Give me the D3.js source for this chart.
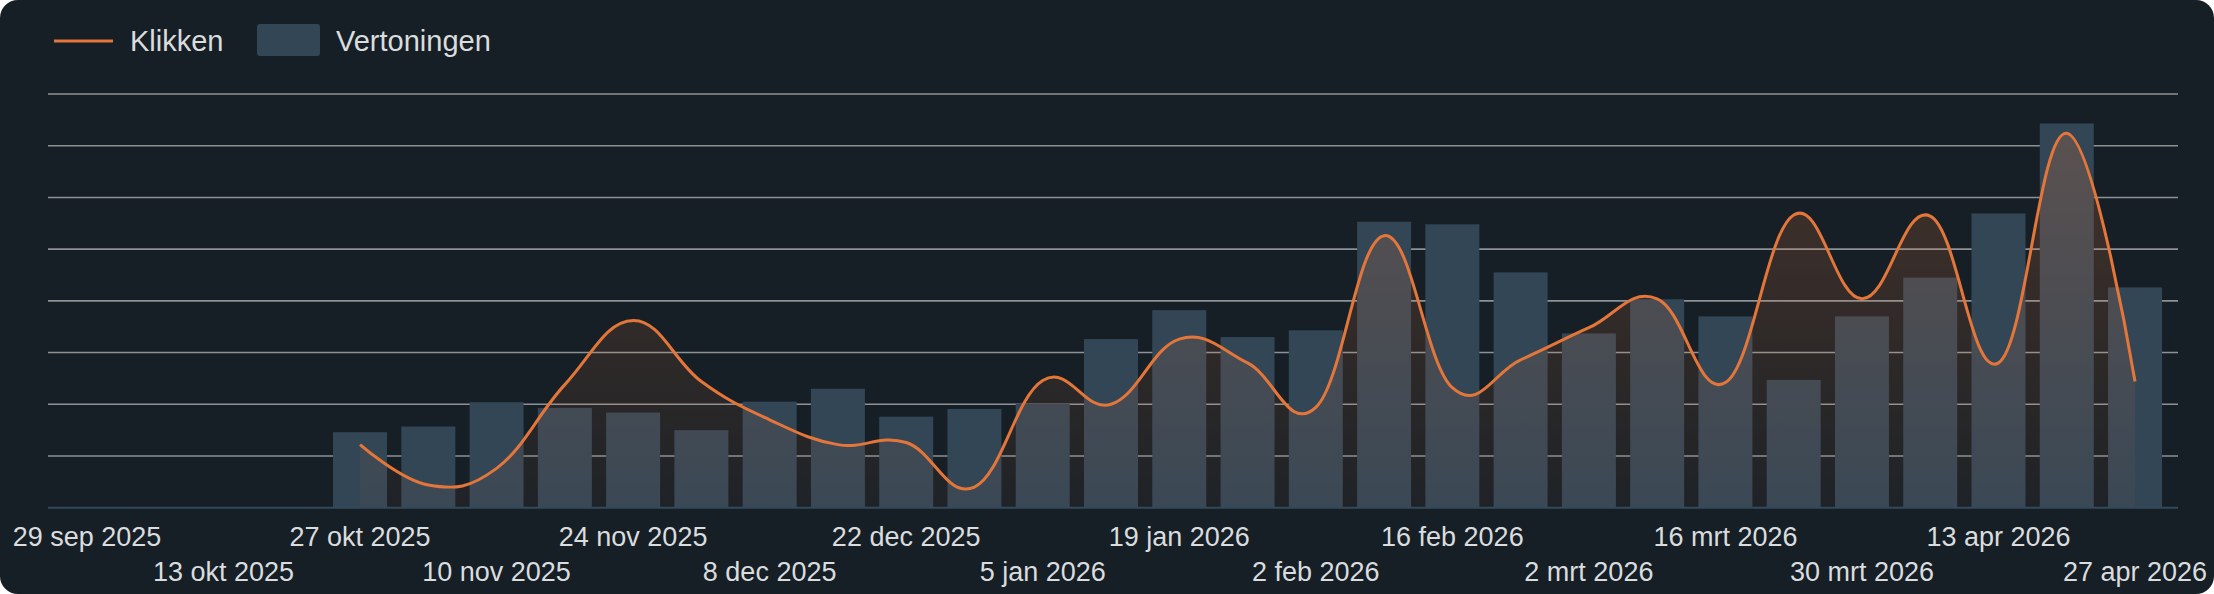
<!DOCTYPE html>
<html lang="nl">
<head>
<meta charset="utf-8">
<title>Klikken en vertoningen per week</title>
<script src="https://cdnjs.cloudflare.com/ajax/libs/d3/7.8.5/d3.min.js"></script>
<style>
  html, body { margin: 0; padding: 0; background: #ffffff; }
  svg { display: block; }
  text { font-family: "Liberation Sans", Arial, Helvetica, sans-serif; fill: #dadcde; }
</style>
</head>
<body>
<script>
// weeks (monday) shown on the x axis
var weeks = ["29 sep 2025","6 okt 2025","13 okt 2025","20 okt 2025","27 okt 2025","3 nov 2025","10 nov 2025","17 nov 2025",
  "24 nov 2025","1 dec 2025","8 dec 2025","15 dec 2025","22 dec 2025","29 dec 2025","5 jan 2026","12 jan 2026",
  "19 jan 2026","26 jan 2026","2 feb 2026","9 feb 2026","16 feb 2026","23 feb 2026","2 mrt 2026","9 mrt 2026",
  "16 mrt 2026","23 mrt 2026","30 mrt 2026","6 apr 2026","13 apr 2026","20 apr 2026","27 apr 2026"];

// Vertoningen (bars)
var vertoningen = [0, 0, 0, 0, 146, 157, 204, 193, 184, 150, 205, 230, 176, 191, 201, 326,
  382, 330, 343, 553, 548, 455, 337, 403, 370, 247, 370, 445, 569, 743, 426];

// Klikken (line), null = no data yet
var klikken = [null, null, null, null, 6.1, 2.2, 3.8, 11.9, 18.1, 12.2, 8.5, 6.1, 6.3, 2.0, 12.3, 10.0,
  16.3, 14.0, 9.7, 26.3, 11.6, 14.3, 17.4, 20.2, 12.1, 28.3, 20.2, 28.2, 14.0, 36.2, 12.2];

var seriesNames = ["Klikken", "Vertoningen"];

var w = 2214, h = 594;
var gridLeft = 48, gridRight = 2178, plotTop = 94, plotBottom = 507.7;

var svg = d3.select("body").append("svg")
  .attr("width", w)
  .attr("height", h);

// card
svg.append("rect")
  .attr("width", w).attr("height", h)
  .attr("rx", 18).attr("ry", 18)
  .attr("fill", "#161f26");

var defs = svg.append("defs");
var grad = defs.append("linearGradient")
  .attr("id", "clickFill")
  .attr("gradientUnits", "userSpaceOnUse")
  .attr("x1", 0).attr("y1", 0).attr("x2", 0).attr("y2", h);
grad.append("stop").attr("offset", 0).attr("stop-color", "#e8773a").attr("stop-opacity", 0.28);
grad.append("stop").attr("offset", 1).attr("stop-color", "#e8773a").attr("stop-opacity", 0);

// scales
var x = d3.scaleBand()
  .domain(weeks)
  .range([46, 2176])
  .paddingInner(0.209)
  .paddingOuter(0.2045);

var y = d3.scaleLinear().domain([0, 800]).range([plotBottom, plotTop]);
var y2 = d3.scaleLinear().domain([0, 40]).range([plotBottom, plotTop]);

// grid
var gridTicks = d3.range(100, 801, 100);
svg.append("g").selectAll("line")
  .data(gridTicks)
  .enter().append("line")
  .attr("x1", gridLeft).attr("x2", gridRight)
  .attr("y1", function(d) { return y(d); })
  .attr("y2", function(d) { return y(d); })
  .attr("stroke", "#8e9296")
  .attr("stroke-width", 1.6);

// bars
svg.append("g").selectAll("rect")
  .data(vertoningen)
  .enter().append("rect")
  .attr("x", function(d, i) { return x(weeks[i]); })
  .attr("width", x.bandwidth())
  .attr("y", function(d) { return y(d); })
  .attr("height", function(d) { return y(0) - y(d); })
  .attr("fill", "#334656");

// klikken area + line
var pts = klikken.map(function(d, i) { return { w: weeks[i], v: d }; });

var area = d3.area()
  .defined(function(d) { return d.v !== null; })
  .x(function(d) { return x(d.w) + x.bandwidth() / 2; })
  .y0(y2(0))
  .y1(function(d) { return y2(d.v); })
  .curve(d3.curveCardinal.tension(-0.2));

var line = d3.line()
  .defined(function(d) { return d.v !== null; })
  .x(function(d) { return x(d.w) + x.bandwidth() / 2; })
  .y(function(d) { return y2(d.v); })
  .curve(d3.curveCardinal.tension(-0.2));

svg.append("path")
  .datum(pts)
  .attr("d", area)
  .attr("fill", "url(#clickFill)");

svg.append("path")
  .datum(pts)
  .attr("d", line)
  .attr("fill", "none")
  .attr("stroke", "#e4763a")
  .attr("stroke-width", 3);

// baseline
svg.append("line")
  .attr("x1", gridLeft).attr("x2", gridRight)
  .attr("y1", y(0)).attr("y2", y(0))
  .attr("stroke", "#34495a")
  .attr("stroke-width", 2);

// x labels, every 2 weeks, alternating rows
var xAxis = svg.append("g").attr("class", "x-axis");
weeks.forEach(function(d, i) {
  if (i % 2 !== 0) return;
  var row = (i / 2) % 2;
  xAxis.append("text")
    .attr("x", x(d) + x.bandwidth() / 2)
    .attr("y", row === 0 ? 546 : 581)
    .attr("text-anchor", "middle")
    .style("font-size", "27px")
    .text(d);
});

// legend
var legend = svg.append("g").attr("class", "legend");
legend.append("line")
  .attr("x1", 54).attr("x2", 113)
  .attr("y1", 41).attr("y2", 41)
  .attr("stroke", "#e4763a")
  .attr("stroke-width", 3);
legend.append("text")
  .attr("x", 130).attr("y", 51)
  .style("font-size", "29px")
  .text(seriesNames[0]);
legend.append("rect")
  .attr("x", 257).attr("y", 24)
  .attr("width", 63).attr("height", 32)
  .attr("rx", 3)
  .attr("fill", "#334656");
legend.append("text")
  .attr("x", 336).attr("y", 51)
  .style("font-size", "29px")
  .text(seriesNames[1]);
</script>
</body>
</html>
